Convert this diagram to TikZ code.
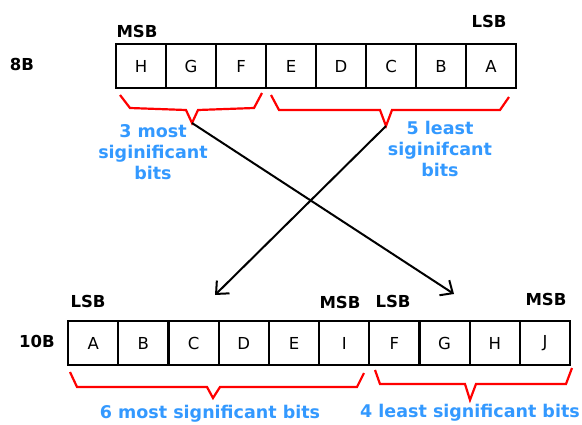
\documentclass[tikz,border=0pt]{standalone}
\usepackage{fontspec}
\setmainfont{DejaVu Sans}
\usetikzlibrary{arrows.meta}
\definecolor{lblue}{HTML}{3399FF}
\begin{document}
\begin{tikzpicture}[x=1pt,y=-1pt,
 cell/.style={draw,line width=2.2pt,minimum width=50pt,minimum height=44pt,inner sep=0pt,font=\fontsize{16.5}{16.5}\selectfont,anchor=north west},
 cellb/.style={cell,minimum width=50.2pt},
 lbl/.style={font=\bfseries\fontsize{16.5}{16.5}\selectfont},
 blu/.style={font=\bfseries\fontsize{17.5}{21}\selectfont,text=lblue,align=center},
 brace/.style={draw=red,line width=2.2pt,line join=miter},
 arr/.style={draw,line width=2pt,-{Straight Barb[length=10pt,width=18pt,line width=2pt]}}]
\useasboundingbox[fill=white] (0,0) rectangle (582,424);
% top row
\foreach \t [count=\i from 0] in {H,G,F,E,D,C,B,A}
  \node[cell] (t\t) at (115+50*\i,43) {\t};
% bottom row
\foreach \t/\n [count=\i from 0] in {A/bA,B/bB,C/bC,D/bD,E/bE,I/bI,F/bF,G/bG,H/bH,J/bJ}
  \node[cellb] (\n) at (67+50.2*\i,320) {\t};
% labels
\node[lbl] (l8) at (22,64) {8B};
\node[lbl] (msbt) at (137,31) {MSB};
\node[lbl] (lsbt) at (489,21) {LSB};
\node[lbl] (l10) at (37,341) {10B};
\node[lbl] (lsb1) at (88,301) {LSB};
\node[lbl] (msb1) at (340,302) {MSB};
\node[lbl] (lsb2) at (393,301) {LSB};
\node[lbl] (msb2) at (546,299) {MSB};
% braces
\draw[brace] (120,95) -- (130,108) -- (186,110) -- (192,123) coordinate (tl) -- (198,110) -- (254,108) -- (262,93);
\draw[brace] (271,95) -- (279,110) -- (380,110) -- (386,126) coordinate (tr) -- (392,110) -- (500,110) -- (509,97);
\draw[brace] (70,372) -- (77,387) -- (207,387) -- (213,398) -- (220,387) -- (357,387) -- (364,373);
\draw[brace] (375,370) -- (380,384) -- (465,384) -- (470,400) -- (476,384) -- (566,384) -- (572,368);
% blue texts
\node[blu] (t3) at (153,152) {3 most\\siginificant\\bits};
\node[blu] (t5) at (440,149) {5 least\\siginifcant\\bits};
\node[blu] (t6) at (210,414) {6 most significant bits};
\node[blu] (t4) at (470,413) {4 least significant bits};
% arrows
\coordinate (el) at (454,294);
\coordinate (er) at (215,295);
\draw[arr] (tl) -- (el);
\draw[arr] (tr) -- (er);
\end{tikzpicture}
\end{document}
